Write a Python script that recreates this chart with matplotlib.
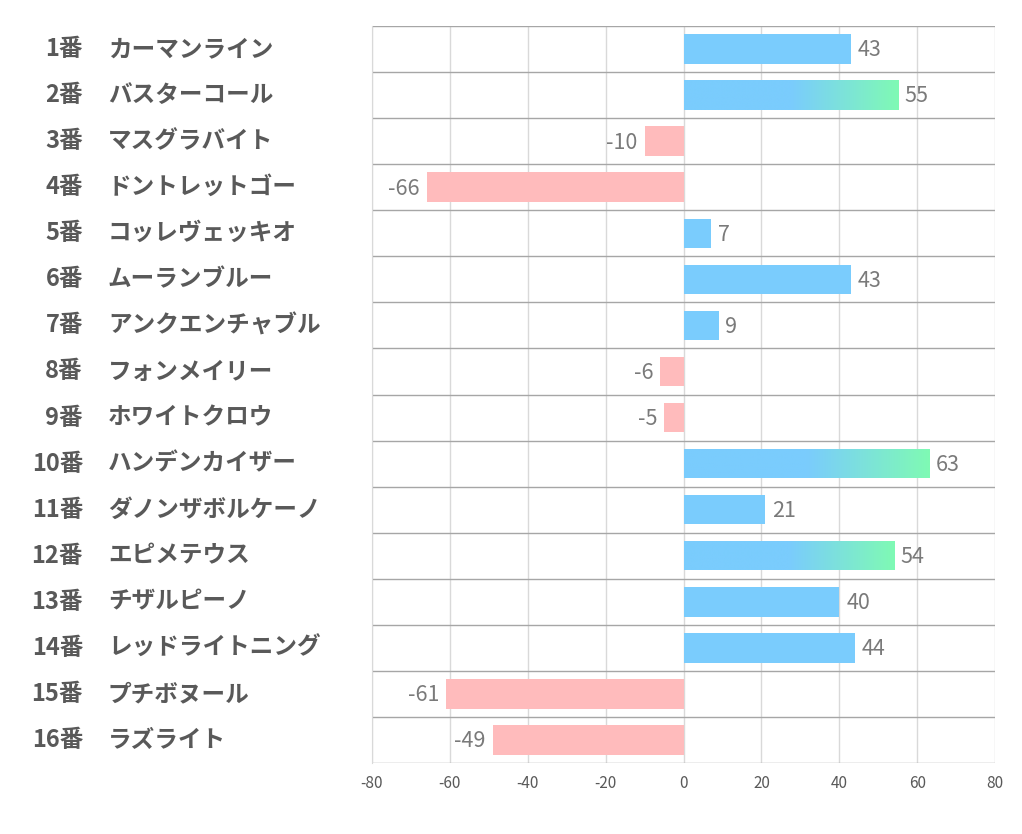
import numpy as np
import matplotlib
matplotlib.use("Agg")
import matplotlib.pyplot as plt
import matplotlib.transforms as mtransforms
from matplotlib.colors import LinearSegmentedColormap

plt.rcParams['font.family'] = ['Noto Sans CJK JP', 'DejaVu Sans']

numbers = ['1番', '2番', '3番', '4番', '5番', '6番', '7番', '8番',
           '9番', '10番', '11番', '12番', '13番', '14番', '15番', '16番']
horses = ['カーマンライン', 'バスターコール', 'マスグラバイト', 'ドントレットゴー',
          'コッレヴェッキオ', 'ムーランブルー', 'アンクエンチャブル', 'フォンメイリー',
          'ホワイトクロウ', 'ハンデンカイザー', 'ダノンザボルケーノ', 'エピメテウス',
          'チザルピーノ', 'レッドライトニング', 'プチボヌール', 'ラズライト']
scores = [43, 55, -10, -66, 7, 43, 9, -6, -5, 63, 21, 54, 40, 44, -61, -49]
xticks = [-80, -60, -40, -20, 0, 20, 40, 60, 80]

BLUE = '#7accfd'
GREEN = '#7ffab4'
PINK = '#ffbbbc'
bar_h = 0.64

fig = plt.figure(figsize=(10.22, 8.34), dpi=100)
ax = fig.add_axes([372 / 1022, 1 - 763 / 834, 623 / 1022, 737 / 834])

n = len(scores)
ypos = np.arange(n)
ax.set_xlim(-80, 80)
ax.set_ylim(n - 0.5, -0.5)

# grid
for x in xticks:
    ax.axvline(x, color='#d9d9d9', lw=1, zorder=0)
for k in range(n + 1):
    ax.axhline(k - 0.5, color='#a6a6a6', lw=1, zorder=0.5)

grad = LinearSegmentedColormap.from_list('bg', [BLUE, BLUE, GREEN], N=256)
for y, v in zip(ypos, scores):
    if v >= 50:
        bars = ax.barh(y, v, height=bar_h, color='none', zorder=2)
        img = ax.imshow(np.linspace(0, 1, 256).reshape(1, -1), cmap=grad,
                        extent=[0, v, y + bar_h / 2, y - bar_h / 2],
                        aspect='auto', zorder=2, interpolation='bilinear')
        img.set_clip_path(bars[0])
    elif v >= 0:
        ax.barh(y, v, height=bar_h, color=BLUE, zorder=2)
    else:
        ax.barh(y, v, height=bar_h, color=PINK, zorder=2)
    if v >= 0:
        ax.annotate(str(v), (v, y), xytext=(5, -1), textcoords='offset points',
                    ha='left', va='center', fontsize=15.5, color='#7a7a7a')
    else:
        ax.annotate(str(v), (v, y), xytext=(-5, -1), textcoords='offset points',
                    ha='right', va='center', fontsize=15.5, color='#7a7a7a')

ax.set_ylim(n - 0.5, -0.5)
ax.set_xlim(-80, 80)
ax.set_yticks([])
ax.set_xticks(xticks)
ax.set_xticklabels([str(t) for t in xticks])
ax.tick_params(axis='x', length=0, pad=9, labelsize=11, labelcolor='#595959')
for s in ['top', 'right', 'bottom']:
    ax.spines[s].set_visible(False)
ax.spines['left'].set_color('#d9d9d9')

trans = mtransforms.blended_transform_factory(fig.transFigure, ax.transData)
for y, num, name in zip(ypos, numbers, horses):
    fig.text(83 / 1022, y, num, transform=trans, ha='right', va='center',
             fontsize=17, fontweight='bold', color='#595959')
    fig.text(108 / 1022, y, name, transform=trans, ha='left', va='center',
             fontsize=17, fontweight='bold', color='#595959')

fig.savefig('out.png', dpi=100, facecolor='white')
